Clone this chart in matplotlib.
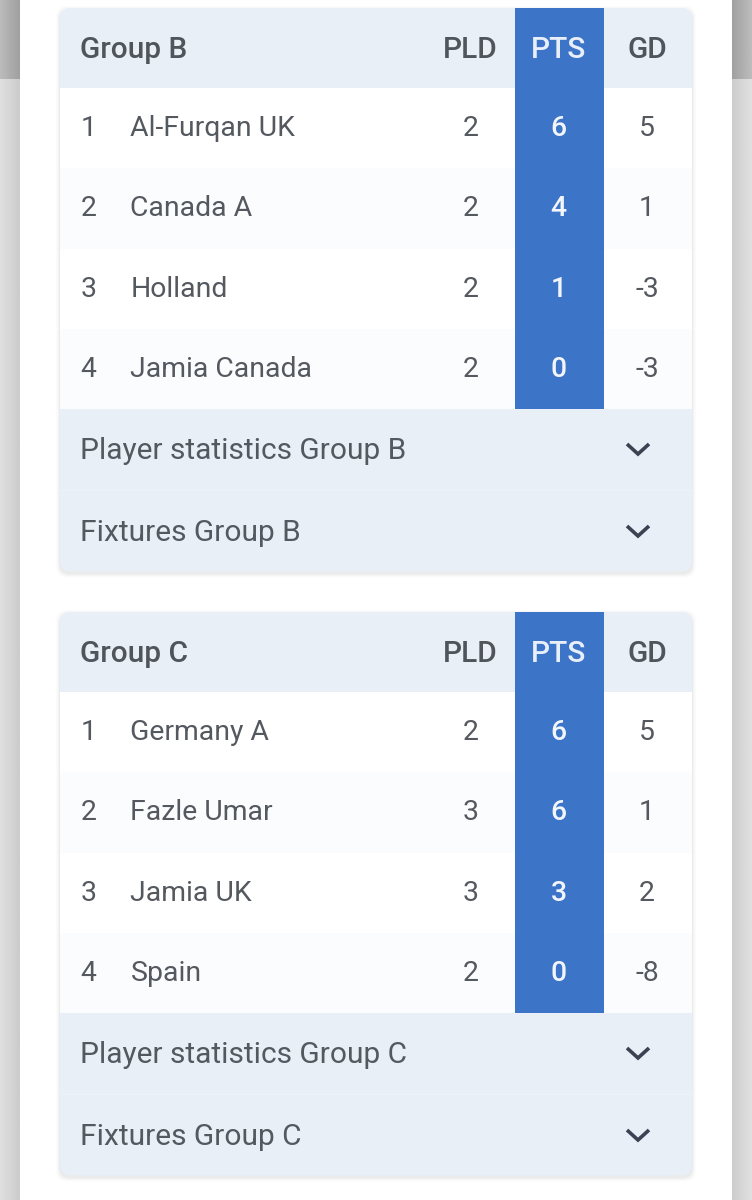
import numpy as np
import matplotlib
matplotlib.use("Agg")
import matplotlib.pyplot as plt
from matplotlib.patches import FancyBboxPatch, Rectangle

plt.rcParams['font.family'] = ['Roboto', 'DejaVu Sans']

group_names = ["Group B", "Group C"]
columns = ["PLD", "PTS", "GD"]
teams_b = ["Al-Furqan UK", "Canada A", "Holland", "Jamia Canada"]
pld_b = [2, 2, 2, 2]
pts_b = [6, 4, 1, 0]
gd_b = [5, 1, -3, -3]
teams_c = ["Germany A", "Fazle Umar", "Jamia UK", "Spain"]
pld_c = [2, 3, 3, 2]
pts_c = [6, 6, 3, 0]
gd_c = [5, 1, 2, -8]

HEAD_BG = "#e9eff7"
BLUE = "#3c74c8"
TEXT = "#54585f"
HEAD_TEXT = "#50545b"
CHEVRON = "#3b4252"
FS_HEAD = 21.5
FS_ROW = 20.4
FS_ACC = 21.5

fig = plt.figure(figsize=(7.52, 12), dpi=100)
ax = fig.add_axes([0, 0, 1, 1])
ax.set_xlim(0, 752)
ax.set_ylim(1200, 0)
ax.axis("off")


def strip(x0, x1, y0, y1, c0, c1):
    grad = np.linspace(c0, c1, 20).reshape(1, -1)
    ax.imshow(grad, extent=(x0, x1, y1, y0), cmap="gray", vmin=0, vmax=255,
              aspect="auto", zorder=1, interpolation="bilinear")


# grey page edges either side of the white column
strip(0, 20, 0, 79, 188, 160)
strip(0, 20, 79, 1200, 224, 204)
strip(732, 752, 0, 79, 160, 188)
strip(732, 752, 79, 1200, 204, 224)
ax.set_xlim(0, 752)
ax.set_ylim(1200, 0)


def draw_card(top, title, teams, pld, pts, gd):
    left, right = 60, 692
    bottom = top + 563.5
    # soft shadow
    for grow, alpha in [(4, 0.01), (3, 0.015), (2, 0.02), (1, 0.03)]:
        ax.add_patch(FancyBboxPatch((left - grow, top + 2 - grow), right - left + 2 * grow,
                                    bottom - top + 2 * grow,
                                    boxstyle="round,pad=0,rounding_size=11",
                                    fc="black", ec="none", alpha=alpha, zorder=2))
    card = FancyBboxPatch((left, top), right - left, bottom - top,
                          boxstyle="round,pad=0,rounding_size=11",
                          fc=HEAD_BG, ec="none", zorder=3)
    ax.add_patch(card)

    # white / off-white rows
    row_top = top + 80
    row_h = 80.25
    for i in range(len(teams)):
        c = "#ffffff" if i % 2 == 0 else "#fbfcfe"
        ax.add_patch(Rectangle((left, row_top + i * row_h), right - left, row_h,
                               fc=c, ec="none", zorder=4))
    rows_end = row_top + row_h * len(teams)

    # PTS column
    ax.add_patch(Rectangle((515, top), 89, rows_end - top, fc=BLUE, ec="none", zorder=5))

    # header
    head_y = top + 40
    ax.text(80, head_y - 1, title, fontsize=FS_HEAD, fontweight="medium", color=HEAD_TEXT,
            va="center_baseline", ha="left", zorder=6)
    col_x = [470.5, 558.5, 647]
    for x, name in zip(col_x, columns):
        c = "#e9effa" if name == "PTS" else HEAD_TEXT
        ax.text(x, head_y - 1, name, fontsize=FS_HEAD, fontweight="medium", color=c,
                va="center_baseline", ha="center", zorder=6)

    for i in range(len(teams)):
        y = row_top + (i + 0.5) * row_h - 2.5
        ax.text(80.5, y, str(i + 1), fontsize=FS_ROW, color=TEXT, va="center_baseline", zorder=6)
        ax.text(130.5, y, teams[i], fontsize=FS_ROW, color=TEXT, va="center_baseline", zorder=6)
        ax.text(col_x[0], y, str(pld[i]), fontsize=FS_ROW, color=TEXT, va="center_baseline",
                ha="center", zorder=6)
        ax.text(col_x[1], y, str(pts[i]), fontsize=FS_ROW, fontweight="medium", color="#f2f5fb",
                va="center_baseline", ha="center", zorder=6)
        ax.text(col_x[2], y, str(gd[i]), fontsize=FS_ROW, color=TEXT, va="center_baseline",
                ha="center", zorder=6)

    # accordion rows
    ax.plot([left, right], [rows_end + 81, rows_end + 81], color="#eef2f8", lw=1, zorder=6)
    labels = ["Player statistics " + title, "Fixtures " + title]
    for k, label in enumerate(labels):
        y = rows_end + 40 + k * 82
        ax.text(80.5, y - 1, label, fontsize=FS_ACC, color=TEXT, va="center_baseline", zorder=6)
        ax.plot([627, 638, 649], [y - 5, y + 5, y - 5], color=CHEVRON, lw=2.6,
                solid_joinstyle="miter", solid_capstyle="butt", zorder=6)


draw_card(8, group_names[0], teams_b, pld_b, pts_b, gd_b)
draw_card(612, group_names[1], teams_c, pld_c, pts_c, gd_c)

fig.savefig("out.png", dpi=100, facecolor="white")
